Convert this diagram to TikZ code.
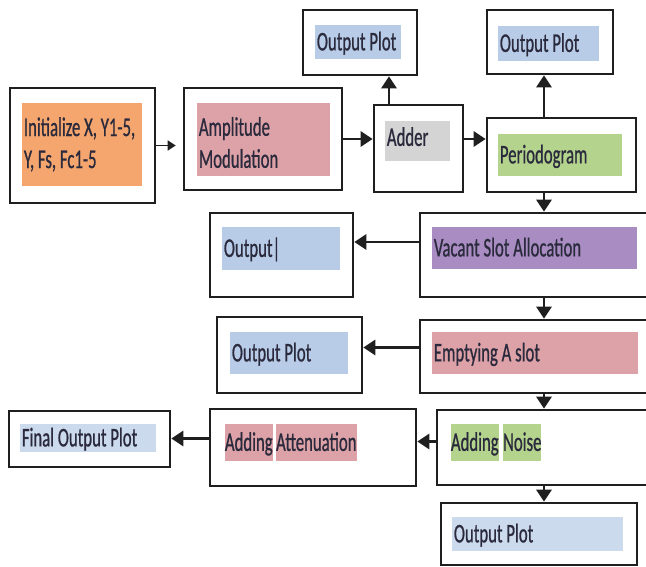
\documentclass[tikz,border=0pt]{standalone}
\usepackage{fontspec}
\setmainfont{Carlito}[FakeStretch=0.62, FakeBold=0.7]
\usetikzlibrary{positioning, arrows.meta}
\definecolor{inkdark}{HTML}{2A2A3C}
\definecolor{orangefill}{HTML}{F4A66E}
\definecolor{pinkfill}{HTML}{DCA2A8}
\definecolor{bluefill}{HTML}{B8CCE8}
\definecolor{paleblue}{HTML}{CCDAEE}
\definecolor{grayfill}{HTML}{D4D4D4}
\definecolor{greenfill}{HTML}{B4D48E}
\definecolor{purplefill}{HTML}{A88CC2}
\newcommand{\labelfont}{\fontsize{27}{32}\selectfont}
\newcommand{\tightspace}{\spaceskip=3.8pt\xspaceskip=3.8pt\relax}

\begin{document}
\begin{tikzpicture}[
  x=1pt, y=-1pt,
  frame/.style={draw=black!88, line width=2.6pt, fill=white},
  tagbase/.style={fill=#1, inner xsep=2pt, inner ysep=0pt, align=left,
              text=inkdark, font=\labelfont, execute at begin node=\tightspace},
  tag/.style={tagbase=#1, text height=17pt, text depth=0pt},
  word/.style={tag=#1, inner xsep=0pt},
  arr/.style={-{Triangle[length=12pt,width=15pt]}, line width=2.8pt, draw=black!88},
  thinarr/.style={-{Triangle[length=8pt,width=10pt]}, line width=1.6pt, draw=black!88}
 ]
\useasboundingbox (0,0) rectangle (646,567);
\fill[white] (0,0) rectangle (646,567);
% outer frames
\node[frame, minimum width=145pt, minimum height=115pt] (init)   at (82.5,145.5) {};
\node[frame, minimum width=158pt, minimum height=102pt] (amp)    at (263,139) {};
\node[frame, minimum width=114pt, minimum height=65pt]  (outA)   at (360,42.5) {};
\node[frame, minimum width=89pt,  minimum height=87pt]  (adder)  at (418.5,148.5) {};
\node[frame, minimum width=149pt, minimum height=74pt]  (perio)  at (561.5,155) {};
\node[frame, minimum width=126pt, minimum height=64pt]  (outB)   at (550,42) {};
\node[frame, minimum width=240pt, minimum height=84pt]  (vacant) at (540,255) {};
\node[frame, minimum width=143pt, minimum height=84pt]  (outC)   at (281.5,255) {};
\node[frame, minimum width=145pt, minimum height=76pt]  (outD)   at (289.5,355) {};
\node[frame, minimum width=240pt, minimum height=73pt]  (empty)  at (540,356.5) {};
\node[frame, minimum width=223pt, minimum height=75pt]  (noise)  at (548.5,447.5) {};
\node[frame, minimum width=206pt, minimum height=77pt]  (atten)  at (313,447.5) {};
\node[frame, minimum width=161pt, minimum height=56pt]  (final)  at (89.5,439) {};
\node[frame, minimum width=196pt, minimum height=62pt]  (outE)   at (539,534) {};
% coloured labels
\node[tagbase=orangefill, text width=116pt, minimum height=83pt,
      below right=16pt and 13pt of init.north west] (initT) {\mbox{Initialize X, Y1-5,}\\\mbox{Y, Fs, Fc1-5}};
\node[tagbase=pinkfill, text width=129pt, minimum height=73pt, text depth=26pt,
      below right=16pt and 14pt of amp.north west] (ampT) {Amplitude\\Modulation};
\node[tag=bluefill, text width=82pt, minimum height=34pt,
      below right=16pt and 13pt of outA.north west] (outAT) {\mbox{Output Plot}};
\node[tag=grayfill, text width=61pt, minimum height=40pt, text depth=7pt,
      below right=17pt and 12pt of adder.north west] (adderT) {Adder};
\node[tag=greenfill, text width=120pt, minimum height=42pt,
      below right=17pt and 12pt of perio.north west] (perioT) {Periodogram};
\node[tag=bluefill, text width=97pt, minimum height=35pt,
      below right=17pt and 12pt of outB.north west] (outBT) {Output Plot};
\node[tag=purplefill, text width=201pt, minimum height=42pt,
      below right=15pt and 13pt of vacant.north west] (vacantT) {Vacant Slot Allocation};
\node[tag=bluefill, text width=114pt, minimum height=43pt,
      below right=15pt and 13pt of outC.north west] (outCT) {Output|};
\node[tag=bluefill, text width=114pt, minimum height=42pt,
      below right=16pt and 14pt of outD.north west] (outDT) {Output Plot};
\node[tag=pinkfill, text width=202pt, minimum height=42pt,
      below right=13pt and 13pt of empty.north west] (emptyT) {Emptying A slot};
\node[word=greenfill, minimum height=37pt,
      below right=15pt and 15pt of noise.north west] (noiseA) {Adding};
\node[word=greenfill, minimum height=37pt, right=4pt of noiseA] (noiseB) {Noise};
\node[word=pinkfill, minimum height=37pt,
      below right=16pt and 16pt of atten.north west] (attenA) {Adding};
\node[word=pinkfill, minimum height=37pt, right=3pt of attenA] (attenB) {Attenuation};
\node[tag=paleblue, text width=132pt, minimum height=28pt,
      below right=14pt and 12pt of final.north west] (finalT) {Final Output Plot};
\node[tag=paleblue, text width=167pt, minimum height=34pt,
      below right=15pt and 12pt of outE.north west] (outET) {Output Plot};
% connectors
\coordinate (colA)  at (389,0);
\coordinate (spine) at (544,0);
\draw[thinarr, shorten >=7pt] (init.east) -- (init.east -| amp.west);
\draw[arr] (amp.east) -- (amp.east -| adder.west);
\draw[arr] (amp.east -| adder.east) -- (amp.east -| perio.west);
\draw[arr] (adder.north -| colA) -- (outA.south -| colA);
\draw[arr] (perio.north -| spine) -- (outB.south -| spine);
\draw[arr] (perio.south -| spine) -- (vacant.north -| spine);
\draw[arr] ([yshift=13pt]vacant.west) -- ([yshift=13pt]vacant.west -| outC.east);
\draw[arr] (vacant.south -| spine) -- (empty.north -| spine);
\draw[arr] ([yshift=9pt]empty.west) -- ([yshift=9pt]empty.west -| outD.east);
\draw[arr] (empty.south -| spine) -- (noise.north -| spine);
\draw[arr] ([yshift=6pt]noise.west) -- ([yshift=6pt]noise.west -| atten.east);
\draw[arr] ([yshift=9pt]atten.west) -- ([yshift=9pt]atten.west -| final.east);
\draw[arr] (noise.south -| spine) -- (outE.north -| spine);
\end{tikzpicture}
\end{document}
